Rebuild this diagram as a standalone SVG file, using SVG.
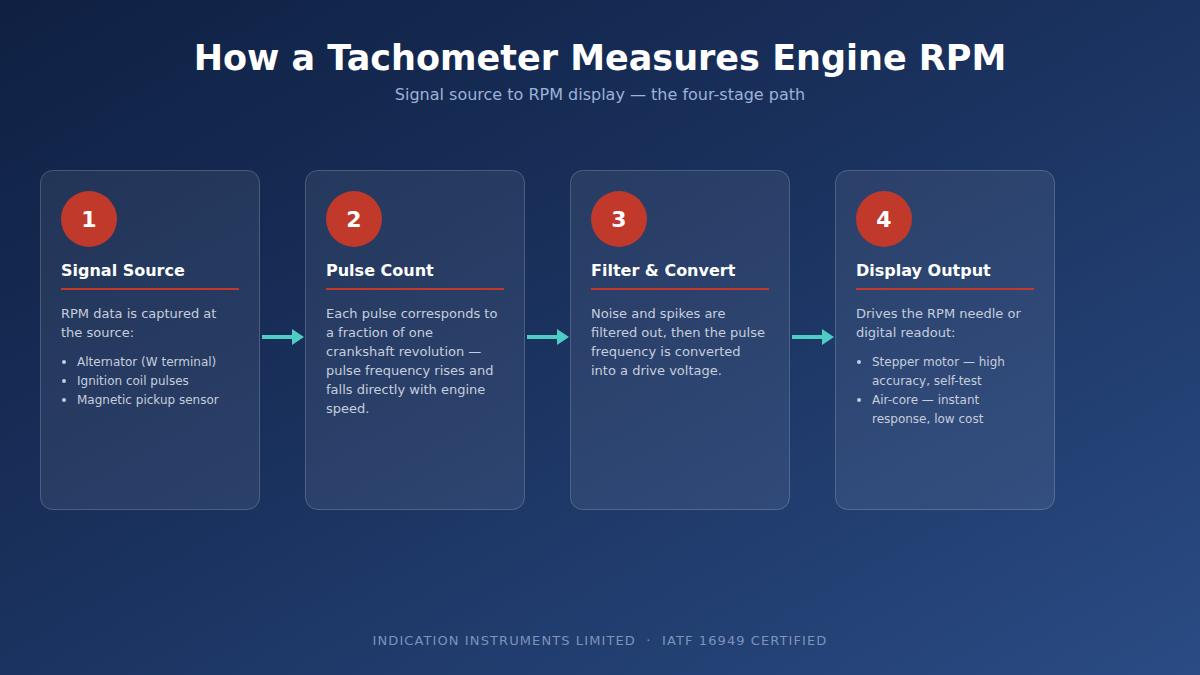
<svg xmlns="http://www.w3.org/2000/svg" width="1200" height="675" viewBox="0 0 1200 675">
<defs>
<linearGradient id="bg" x1="0" y1="0" x2="1" y2="1">
<stop offset="0" stop-color="#0f2042"/>
<stop offset="0.5" stop-color="#1b3360"/>
<stop offset="1" stop-color="#2a4b84"/>
</linearGradient>
<marker id="ah" viewBox="0 0 12 16" refX="0" refY="8" markerWidth="12" markerHeight="16" markerUnits="userSpaceOnUse" orient="auto">
<path d="M0,0 L12,8 L0,16 Z" fill="#4ecdc4"/>
</marker>
<style>
text{font-family:"DejaVu Sans","Noto Sans",sans-serif}
.card{fill:#ffffff;fill-opacity:0.07;stroke:#ffffff;stroke-opacity:0.2;stroke-width:1}
.num{fill:#c0392b}
.numt{fill:#ffffff;font-size:22px;font-weight:bold;text-anchor:middle}
.ttl{fill:#ffffff;font-size:16px;font-weight:bold}
.rule{stroke:#c0392b;stroke-width:2}
.body{fill:#c5cedd;font-size:13px}
.bul{fill:#c5cedd;font-size:12px}
.conn{stroke:#4ecdc4;stroke-width:4;fill:none}
.foot{white-space:pre}
</style>
</defs>
<rect width="1200" height="675" fill="url(#bg)"/>
<text x="600" y="70" text-anchor="middle" fill="#ffffff" font-size="35" font-weight="bold">How a Tachometer Measures Engine RPM</text>
<text x="600" y="100" text-anchor="middle" fill="#9db2d8" font-size="16">Signal source to RPM display — the four-stage path</text>

<g id="connectors">
<line class="conn" x1="262" y1="337" x2="292" y2="337" marker-end="url(#ah)"/>
<line class="conn" x1="527" y1="337" x2="557" y2="337" marker-end="url(#ah)"/>
<line class="conn" x1="792" y1="337" x2="822" y2="337" marker-end="url(#ah)"/>
</g>

<g id="node1">
<rect class="card" x="40.5" y="170.5" width="219" height="339" rx="12"/>
<circle class="num" cx="89" cy="219" r="28"/>
<text class="numt" x="89" y="227">1</text>
<text class="ttl" x="61" y="276">Signal Source</text>
<line class="rule" x1="61" y1="289" x2="239" y2="289"/>
<text class="body" x="61" y="318">RPM data is captured at</text>
<text class="body" x="61" y="337">the source:</text>
<circle cx="64" cy="362" r="2" fill="#c5cedd"/>
<text class="bul" x="77" y="366">Alternator (W terminal)</text>
<circle cx="64" cy="381" r="2" fill="#c5cedd"/>
<text class="bul" x="77" y="385">Ignition coil pulses</text>
<circle cx="64" cy="400" r="2" fill="#c5cedd"/>
<text class="bul" x="77" y="404">Magnetic pickup sensor</text>
</g>

<g id="node2">
<rect class="card" x="305.5" y="170.5" width="219" height="339" rx="12"/>
<circle class="num" cx="354" cy="219" r="28"/>
<text class="numt" x="354" y="227">2</text>
<text class="ttl" x="326" y="276">Pulse Count</text>
<line class="rule" x1="326" y1="289" x2="504" y2="289"/>
<text class="body" x="326" y="318">Each pulse corresponds to</text>
<text class="body" x="326" y="337">a fraction of one</text>
<text class="body" x="326" y="356">crankshaft revolution —</text>
<text class="body" x="326" y="375">pulse frequency rises and</text>
<text class="body" x="326" y="394">falls directly with engine</text>
<text class="body" x="326" y="413">speed.</text>
</g>

<g id="node3">
<rect class="card" x="570.5" y="170.5" width="219" height="339" rx="12"/>
<circle class="num" cx="619" cy="219" r="28"/>
<text class="numt" x="619" y="227">3</text>
<text class="ttl" x="591" y="276">Filter &amp; Convert</text>
<line class="rule" x1="591" y1="289" x2="769" y2="289"/>
<text class="body" x="591" y="318">Noise and spikes are</text>
<text class="body" x="591" y="337">filtered out, then the pulse</text>
<text class="body" x="591" y="356">frequency is converted</text>
<text class="body" x="591" y="375">into a drive voltage.</text>
</g>

<g id="node4">
<rect class="card" x="835.5" y="170.5" width="219" height="339" rx="12"/>
<circle class="num" cx="884" cy="219" r="28"/>
<text class="numt" x="884" y="227">4</text>
<text class="ttl" x="856" y="276">Display Output</text>
<line class="rule" x1="856" y1="289" x2="1034" y2="289"/>
<text class="body" x="856" y="318">Drives the RPM needle or</text>
<text class="body" x="856" y="337">digital readout:</text>
<circle cx="859" cy="362" r="2" fill="#c5cedd"/>
<text class="bul" x="872" y="366">Stepper motor — high</text>
<text class="bul" x="872" y="385">accuracy, self-test</text>
<circle cx="859" cy="400" r="2" fill="#c5cedd"/>
<text class="bul" x="872" y="404">Air-core — instant</text>
<text class="bul" x="872" y="423">response, low cost</text>
</g>

<text class="foot" x="600" y="645" text-anchor="middle" fill="#7d93ba" font-size="13" letter-spacing="1.1">INDICATION INSTRUMENTS LIMITED  ·  IATF 16949 CERTIFIED</text>
</svg>
